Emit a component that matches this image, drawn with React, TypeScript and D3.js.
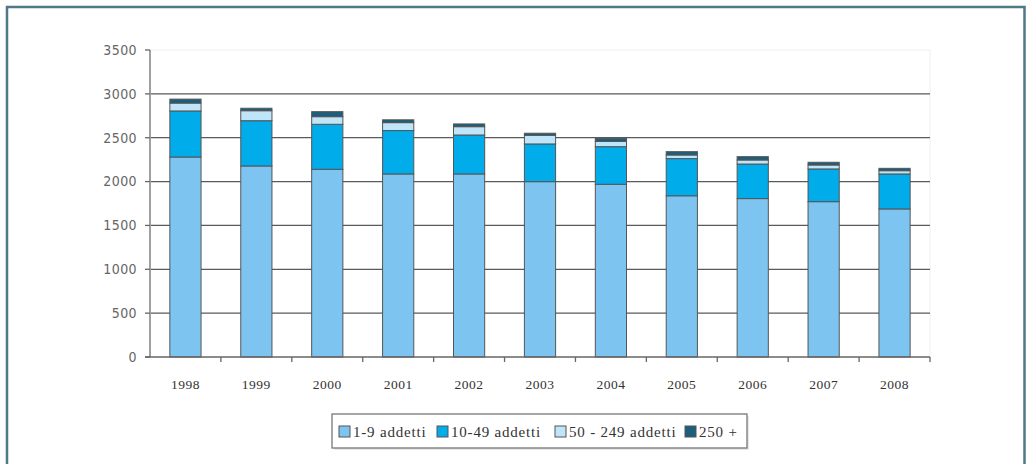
import React from 'react';
import * as d3 from 'd3';

const years = ['1998', '1999', '2000', '2001', '2002', '2003', '2004', '2005', '2006', '2007', '2008'];
const micro = [2280, 2178, 2140, 2087, 2087, 1999, 1969, 1838, 1806, 1771, 1688];
const small = [525, 516, 513, 495, 444, 430, 429, 424, 394, 373, 399];
const medium = [90, 114, 87, 90, 95, 99, 60, 41, 46, 45, 37];
const large = [45, 28, 57, 32, 31, 23, 36, 38, 38, 31, 27];
const seriesNames = ['1-9 addetti', '10-49 addetti', '50 - 249 addetti', '250 +'];
const colors = ['#7dc5f0', '#00acea', '#c0e5f8', '#1c5e7c'];
const yTicks = [0, 500, 1000, 1500, 2000, 2500, 3000, 3500];

const W = 1027;
const H = 464;
const m = { left: 150, right: 930, top: 50, bottom: 357 };

export default function App() {
  const rows = years.map((y, i) => ({
    year: y,
    s0: micro[i],
    s1: small[i],
    s2: medium[i],
    s3: large[i],
  }));
  const keys = ['s0', 's1', 's2', 's3'];
  const stacked = d3.stack<any>().keys(keys)(rows);

  const x = d3.scaleBand().domain(years).range([m.left, m.right]).paddingInner(0.56).paddingOuter(0.28);
  const y = d3.scaleLinear().domain([0, 3500]).range([m.bottom, m.top]);
  const step = x.step();

  // legend layout
  const legendItems = [
    { sx: 339, tx: 353 },
    { sx: 437, tx: 451 },
    { sx: 555, tx: 569 },
    { sx: 685, tx: 699 },
  ];

  return (
    <svg width={W} height={H} style={{ position: 'absolute', left: 0, top: 0, background: '#fff' }}>
      <path d={`M7,${H + 5} V7 H1024.5 V${H + 5}`} fill="none" stroke="#4e7987" strokeWidth={2.5} />

      {/* faint plot area border */}
      <path d={`M${m.left},${m.top} H${m.right} V${m.bottom}`} fill="none" stroke="#eeeeee" strokeWidth={1} />

      {/* gridlines */}
      {yTicks.filter(t => t > 0 && t < 3500).map(t => (
        <line key={t} x1={m.left} x2={m.right} y1={y(t)} y2={y(t)} stroke="#5a5a5a" strokeWidth={1.3} />
      ))}

      {/* y axis */}
      <line x1={m.left} x2={m.left} y1={m.top} y2={m.bottom} stroke="#a0a0a0" strokeWidth={2} />
      {yTicks.map(t => (
        <g key={t}>
          <line x1={m.left - 5} x2={m.left} y1={y(t)} y2={y(t)} stroke="#666" strokeWidth={1.3} />
          <text x={137} y={y(t)} dy="0.35em" textAnchor="end" fontFamily="'Liberation Sans Narrow', 'DejaVu Sans Condensed', sans-serif" fontSize={14} fill="#666" letterSpacing={0.4}>
            {t}
          </text>
        </g>
      ))}

      {/* bars */}
      {stacked.map((layer, li) => (
        <g key={li}>
          {layer.map((d, i) => (
            <rect
              key={i}
              x={x(years[i])}
              width={x.bandwidth()}
              y={y(d[1])}
              height={y(d[0]) - y(d[1])}
              fill={colors[li]}
              stroke="#555"
              strokeWidth={1}
            />
          ))}
        </g>
      ))}

      {/* x axis */}
      <line x1={m.left - 5} x2={m.right} y1={m.bottom} y2={m.bottom} stroke="#666" strokeWidth={1.5} />
      {years.map((yr, i) => (
        <g key={yr}>
          <line x1={m.left + step * (i + 1)} x2={m.left + step * (i + 1)} y1={m.bottom} y2={m.bottom + 5} stroke="#666" strokeWidth={1.3} />
          <text x={(x(yr) as number) + x.bandwidth() / 2} y={389} textAnchor="middle" fontFamily="'Liberation Serif', serif" fontSize={13.5} fill="#333" letterSpacing={0.5}>
            {yr}
          </text>
        </g>
      ))}

      {/* legend */}
      <rect x={334} y={416} width={415} height={34} fill="#e8e8e8" />
      <rect x={332} y={414} width={415} height={34} fill="#fff" stroke="#777" strokeWidth={1.3} />
      {seriesNames.map((n, i) => (
        <g key={n}>
          <rect x={legendItems[i].sx} y={426} width={11} height={11} fill={colors[i]} stroke="#555" strokeWidth={1} />
          <text x={legendItems[i].tx} y={437} fontFamily="'Liberation Serif', serif" fontSize={15} fill="#333" letterSpacing={0.8}>
            {n}
          </text>
        </g>
      ))}
    </svg>
  );
}
